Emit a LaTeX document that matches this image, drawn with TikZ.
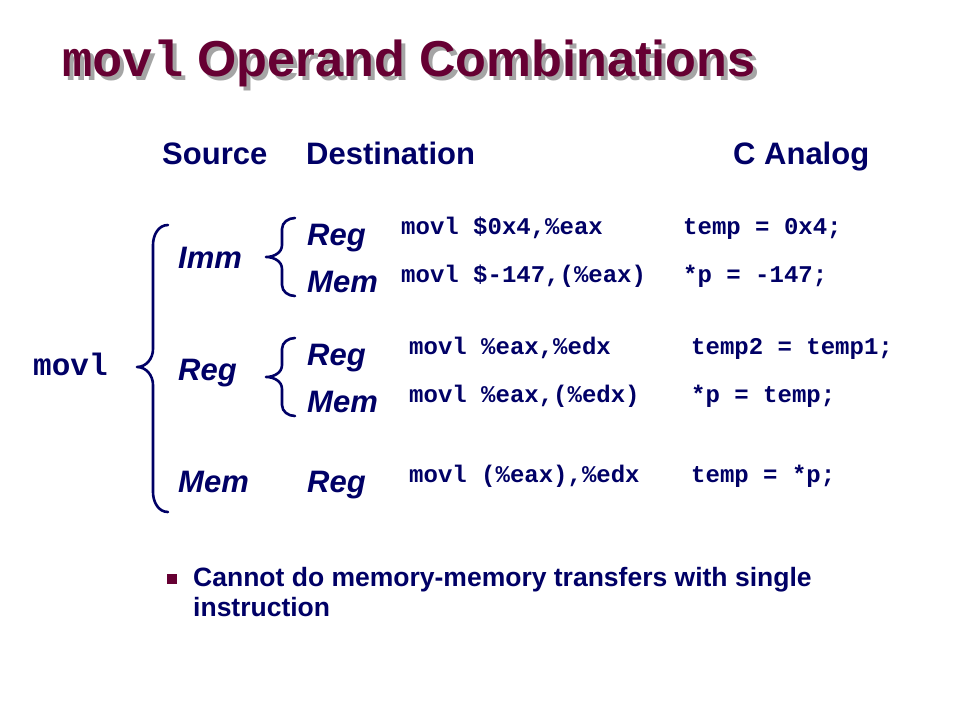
\documentclass[tikz,border=0pt]{standalone}
\usepackage{fontspec}
\setmainfont{Liberation Sans}
\newfontfamily\codefont{Liberation Mono}
\usetikzlibrary{positioning}

\definecolor{slidenavy}{RGB}{0,0,102}
\definecolor{slidemaroon}{RGB}{102,0,51}
\definecolor{slideshadow}{RGB}{165,165,165}

\tikzset{
  txt/.style={anchor=base west,inner sep=0pt,text=slidenavy},
  hdr/.style={txt,font=\fontsize{31}{36}\selectfont\bfseries},
  oplab/.style={txt,font=\fontsize{31}{36}\selectfont\bfseries\itshape},
  asm/.style={txt,font=\fontsize{24}{28}\selectfont\codefont\bfseries},
  note/.style={txt,font=\fontsize{26.5}{30}\selectfont\bfseries},
  brace line/.style={slidenavy,line width=2.6pt,line cap=round,line join=round}
}

\begin{document}
\begin{tikzpicture}[x=1pt,y=1pt]

\useasboundingbox[fill=white] (0,0) rectangle (960,-720);

\node[anchor=base west,inner sep=0pt,text=slideshadow,font=\fontsize{50.5}{60}\selectfont\bfseries] (titleshadow) at (66,-80) {{\codefont movl} Operand Combinations};
\node[anchor=base west,inner sep=0pt,text=slidemaroon,font=\fontsize{50.5}{60}\selectfont\bfseries] (title) at (62,-76) {{\codefont movl} Operand Combinations};

\node[hdr] (source) at (162,-164) {Source};
\node[hdr] (dest) at (306,-164) {Destination};
\node[hdr] (analog) at (733,-164) {C Analog};

\node[txt,font=\fontsize{31}{36}\selectfont\codefont\bfseries] (movl) at (33,-375) {movl};

\node[oplab] (srcimm) at (178,-268) {Imm};
\node[oplab] (srcreg) at (178,-380) {Reg};
\node[oplab] (srcmem) at (178,-492) {Mem};

\node[oplab] (dstimmreg) at (307,-245) {Reg};
\node[oplab] (dstimmmem) at (307,-292) {Mem};
\node[oplab] (dstregreg) at (307,-365) {Reg};
\node[oplab] (dstregmem) at (307,-412) {Mem};
\node[oplab] (dstmemreg) at (307,-492) {Reg};

\node[asm] (asmone) at (401,-234) {movl \$0x4,\%eax};
\node[asm] (asmtwo) at (401,-282) {movl \$-147,(\%eax)};
\node[asm] (asmthree) at (409,-354) {movl \%eax,\%edx};
\node[asm] (asmfour) at (409,-402) {movl \%eax,(\%edx)};
\node[asm] (asmfive) at (409,-482) {movl (\%eax),\%edx};

\node[asm] (cone) at (683,-234) {temp = 0x4;};
\node[asm] (ctwo) at (683,-282) {*p = -147;};
\node[asm] (cthree) at (691,-354) {temp2 = temp1;};
\node[asm] (cfour) at (691,-402) {*p = temp;};
\node[asm] (cfive) at (691,-482) {temp = *p;};

% braces
\draw[brace line] (168,-225) to[out=180,in=90] (153,-245) -- (153,-349) to[out=-90,in=0] (137,-367)
  to[out=0,in=90] (153,-385) -- (153,-492) to[out=-90,in=180] (168,-512);
\foreach \yc in {257,377}
  \draw[brace line] (295,-\yc+39) to[out=180,in=90] (282,-\yc+28) -- (282,-\yc+12) to[out=-90,in=0] (266,-\yc)
    to[out=0,in=90] (282,-\yc-12) -- (282,-\yc-28) to[out=-90,in=180] (295,-\yc-39);

\node[fill=slidemaroon,inner sep=0pt,minimum size=10pt] (bullet) at (172,-578.5) {};
\node[note] (noteone) at (193,-586) {Cannot do memory-memory transfers with single};
\node[note] (notetwo) at (193,-616) {instruction};
\end{tikzpicture}
\end{document}
